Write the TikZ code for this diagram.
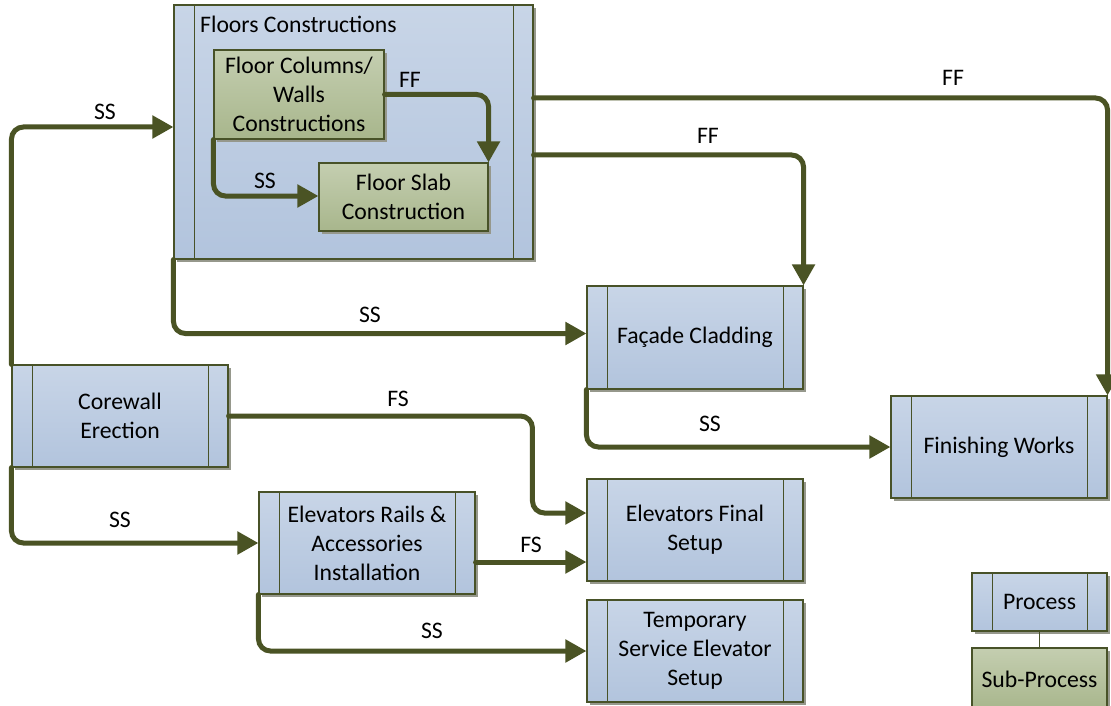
\documentclass[tikz,border=0pt]{standalone}
\usepackage{fontspec}
\setmainfont{Carlito}
\usetikzlibrary{arrows.meta,shadows}
\definecolor{bt}{RGB}{200,213,231}
\definecolor{bb}{RGB}{178,196,221}
\definecolor{gt}{RGB}{196,206,176}
\definecolor{gb}{RGB}{168,182,140}
\definecolor{boxline}{RGB}{72,82,40}
\definecolor{arrowc}{RGB}{74,83,36}
\definecolor{shadowc}{RGB}{150,152,140}
\newcommand\boxfont{\fontsize{23.7}{29}\selectfont}
\tikzset{
  procbox/.style={draw=boxline, line width=1.1pt, top color=bt, bottom color=bb,
    minimum width=216pt, minimum height=102pt, inner sep=0pt, align=center, font=\boxfont,
    drop shadow={shadow xshift=3pt, shadow yshift=-3pt, fill=shadowc, opacity=1},
    path picture={
      \draw[boxline, line width=0.8pt]
        ([xshift=20pt]path picture bounding box.north west) -- ([xshift=20pt]path picture bounding box.south west)
        ([xshift=-20pt]path picture bounding box.north east) -- ([xshift=-20pt]path picture bounding box.south east);
    }},
  subbox/.style={draw=boxline, line width=1.1pt, top color=gt, bottom color=gb,
    inner sep=0pt, align=center, font=\boxfont,
    drop shadow={shadow xshift=3pt, shadow yshift=-3pt, fill=shadowc, opacity=1}},
  conn/.style={draw=arrowc, line width=5pt, rounded corners=12pt, line cap=round,
    -{Triangle[length=21pt,width=22pt]}},
  lbl/.style={font=\boxfont, inner sep=0pt}
}
\begin{document}
\begin{tikzpicture}[x=1pt,y=-1pt]
\useasboundingbox[fill=white] (0,0) rectangle (1111,706);
% boxes
\node[procbox, minimum width=359pt, minimum height=254pt] (floors) at (353.5,132) {};
\node[lbl, anchor=west] (floorsT) at (200,24) {Floors Constructions};
\node[subbox, minimum width=170pt, minimum height=89pt] (cols) at (299,94.5) {Floor Columns/\\Walls\\Constructions};
\node[subbox, minimum width=169pt, minimum height=68pt] (slab) at (403.5,197) {Floor Slab\\Construction};
\node[procbox] (core) at (120,416) {Corewall\\Erection};
\node[procbox, minimum height=103pt] (facade) at (695,337.5) {Façade Cladding};
\node[procbox] (finish) at (999,447) {Finishing Works};
\node[procbox] (rails) at (367,543) {Elevators Rails \&\\Accessories\\Installation};
\node[procbox] (final) at (695,530) {Elevators Final\\Setup};
\node[procbox] (temp) at (695,651) {Temporary\\Service Elevator\\Setup};
\node[procbox, minimum width=135pt, minimum height=58pt] (legP) at (1039.5,602) {Process};
\node[subbox, minimum width=135pt, minimum height=62pt] (legS) at (1039.5,679) {Sub-Process};
\draw[boxline, line width=0.8pt] (legP.south) -- (legS.north);
% helper coordinates
\path ([yshift=5pt]floors.west) coordinate (fw);
\path ([yshift=4pt]facade.west) coordinate (faw);
\path ([yshift=34pt]floors.east) coordinate (fe1);
\path ([yshift=-23pt]floors.east) coordinate (fe2);
\path ([yshift=17pt]final.west) coordinate (fiw);
\path ([xshift=-54pt]fiw) coordinate (fiw2);
\path ([yshift=-19pt]rails.east) coordinate (re);
\path ([yshift=1pt]slab.west) coordinate (sw);
% connectors
\draw[conn] (core.north west) |- (fw);
\draw[conn] (floors.south west) |- (faw);
\draw[conn] (fe1) -| (finish.north east);
\draw[conn] (fe2) -| (facade.north east);
\draw[conn] (core.east) -| (fiw2) -- (fiw);
\draw[conn] (core.south west) |- (rails.west);
\draw[conn] (re) -- (re -| final.west);
\draw[conn] (rails.south west) |- (temp.west);
\draw[conn] (facade.south west) |- (finish.west);
\draw[conn] (cols.east) -| (slab.north east);
\draw[conn] (cols.south west) |- (sw);
% labels
\node[lbl] (l1) at (105,112) {SS};
\node[lbl] (l2) at (370,315) {SS};
\node[lbl] (l3) at (953,78) {FF};
\node[lbl] (l4) at (708,136) {FF};
\node[lbl] (l5) at (398,399) {FS};
\node[lbl] (l6) at (120,520) {SS};
\node[lbl] (l7) at (531,545) {FS};
\node[lbl] (l8) at (432,631) {SS};
\node[lbl] (l9) at (710,424) {SS};
\node[lbl] (l10) at (410,80) {FF};
\node[lbl] (l11) at (265,181) {SS};
\end{tikzpicture}
\end{document}
